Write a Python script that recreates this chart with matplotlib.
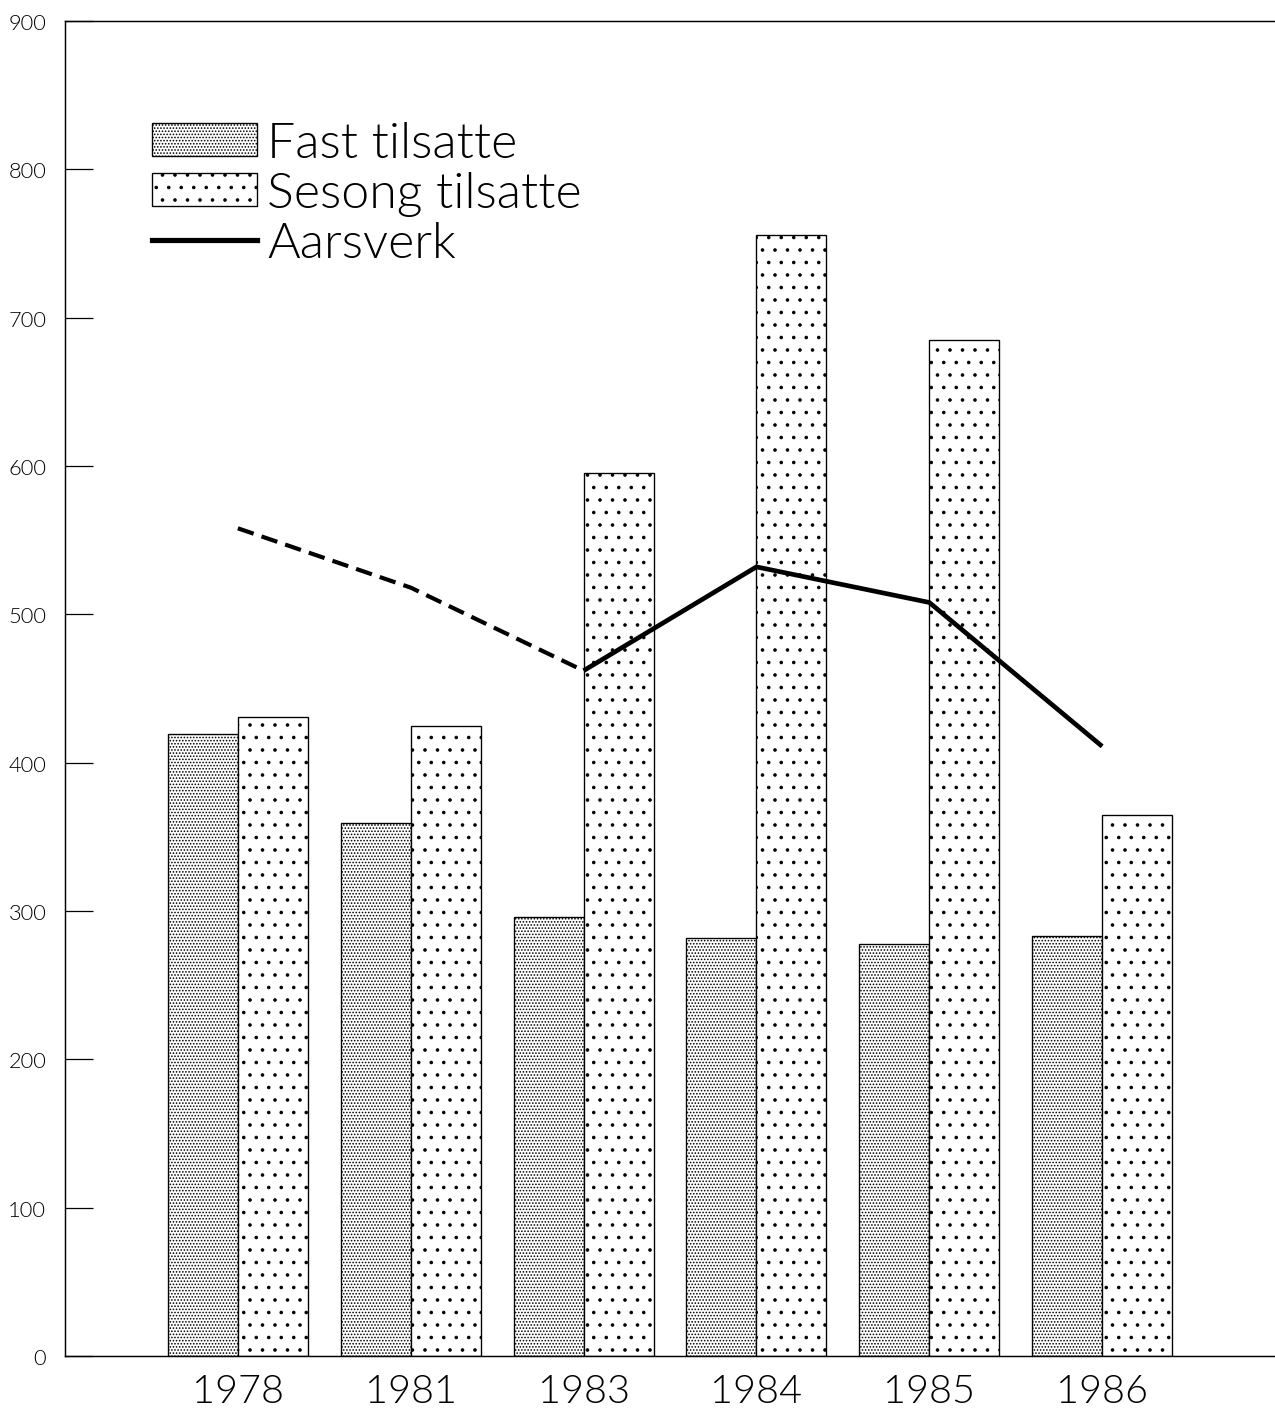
import matplotlib
matplotlib.use("Agg")
import matplotlib.pyplot as plt
from matplotlib.patches import Patch
from matplotlib.lines import Line2D
import numpy as np

# data
years = ["1978", "1981", "1983", "1984", "1985", "1986"]
fast = [419, 359, 296, 282, 278, 283]
sesong = [431, 425, 595, 756, 685, 365]
aarsverk = [558, 518, 462, 532, 508, 411]
y_ticks = [0, 100, 200, 300, 400, 500, 600, 700, 800, 900]

plt.rcParams['font.family'] = ['Lato', 'DejaVu Sans']
plt.rcParams['hatch.linewidth'] = 1.0

DPI = 75
fig = plt.figure(figsize=(1275 / DPI, 1414 / DPI), dpi=DPI)
ax = fig.add_axes([65 / 1275, 1 - 1357 / 1414, 1210 / 1275, 1335 / 1414])

x = np.arange(len(years))
w = 0.405
ax.bar(x - w / 2, fast, width=w, facecolor='white', edgecolor='black',
       hatch='....', linewidth=1.3)
ax.bar(x + w / 2, sesong, width=w, facecolor='white', edgecolor='black',
       hatch='.', linewidth=1.3)

# Aarsverk: dashed up to 1983, solid afterwards
ax.plot(x[:3], aarsverk[:3], color='black', lw=4, dashes=(4, 2))
ax.plot(x[2:], aarsverk[2:], color='black', lw=4.5, solid_capstyle='butt')

ax.set_xlim(-1, 6)
ax.set_ylim(0, 900)
ax.set_yticks(y_ticks)
ax.set_yticklabels([str(v) for v in y_ticks], fontsize=21, fontweight=300)
ax.tick_params(axis='y', direction='in', length=27, width=1.2, pad=18)
ax.set_xticks(x)
ax.set_xticklabels(years, fontsize=38, fontweight=300)
ax.tick_params(axis='x', length=0, pad=16)

ax.spines['right'].set_visible(False)
for s in ['left', 'bottom', 'top']:
    ax.spines[s].set_linewidth(1.4)

handles = [
    Patch(facecolor='white', edgecolor='black', hatch='....', linewidth=1.3),
    Patch(facecolor='white', edgecolor='black', hatch='.', linewidth=1.3),
    Line2D([0], [0], color='black', lw=5),
]
labels = ["Fast tilsatte", "Sesong tilsatte", "Aarsverk"]
fig.legend(handles, labels, loc='upper left',
           bbox_to_anchor=(152 / 1275, 1 - 122 / 1414),
           frameon=False, borderpad=0, borderaxespad=0,
           handlelength=2.1, handleheight=0.62, handletextpad=0.2,
           labelspacing=0.1,
           prop={'size': 48, 'weight': 300})

fig.savefig("out.png", dpi=DPI, facecolor='white')
